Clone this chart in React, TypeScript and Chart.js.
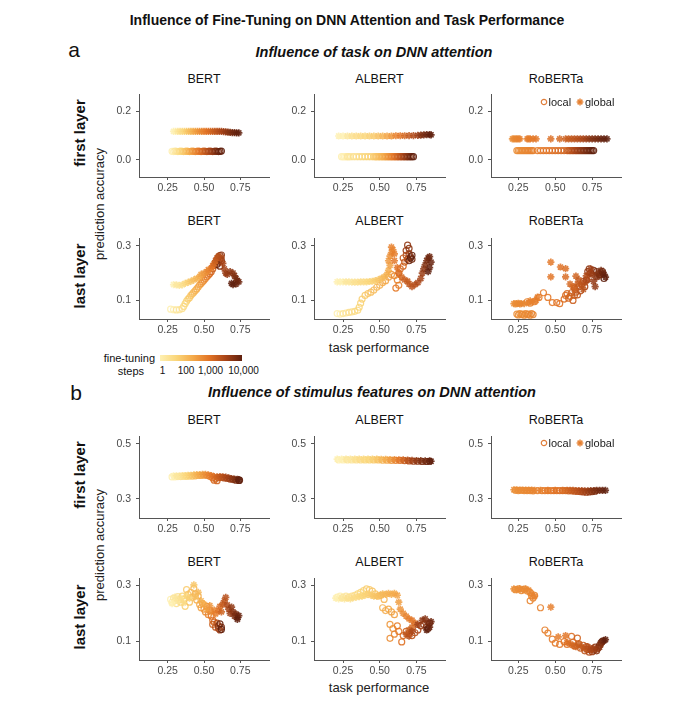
import React, { useEffect, useRef } from 'react';
import Chart from 'chart.js/auto';

const FONT = '"Liberation Sans", Arial, Helvetica, sans-serif';

const models = ['BERT', 'ALBERT', 'RoBERTa'];
const xTickValues = [0.25, 0.5, 0.75];
const yTicksTaskFirst = [0.0, 0.2];
const yTicksLast = [0.1, 0.3];
const yTicksStimFirst = [0.3, 0.5];
const stepLabels = ['1', '100', '1,000', '10,000'];
const legendLabels = ['local', 'global'];

// each point: [task performance, prediction accuracy, fine-tuning steps]
const bertTaskFirstLocal = [[0.28,0.035,1],[0.29,0.034,1],[0.30,0.036,2],[0.31,0.035,2],[0.32,0.034,3],[0.33,0.035,4],[0.34,0.036,5],[0.35,0.035,7],[0.36,0.034,9],[0.37,0.035,12],[0.38,0.036,16],[0.39,0.035,22],[0.40,0.034,30],[0.41,0.035,40],[0.42,0.036,55],[0.43,0.035,75],[0.44,0.034,100],[0.45,0.035,130],[0.46,0.036,170],[0.47,0.035,220],[0.48,0.034,280],[0.49,0.035,350],[0.50,0.036,450],[0.51,0.035,600],[0.52,0.034,800],[0.53,0.035,1000],[0.54,0.036,1300],[0.55,0.035,1700],[0.56,0.034,2200],[0.57,0.035,2900],[0.58,0.036,3800],[0.59,0.035,5000],[0.60,0.034,6500],[0.61,0.035,8200],[0.62,0.036,10000]];
const bertTaskFirstGlobal = [[0.29,0.117,1],[0.305,0.117,1],[0.32,0.117,2],[0.335,0.117,3],[0.35,0.117,4],[0.365,0.117,6],[0.38,0.117,9],[0.395,0.117,14],[0.41,0.117,20],[0.425,0.117,30],[0.44,0.117,45],[0.455,0.117,65],[0.47,0.117,90],[0.485,0.117,120],[0.50,0.117,160],[0.515,0.117,210],[0.53,0.117,280],[0.545,0.117,360],[0.56,0.117,470],[0.575,0.117,600],[0.59,0.117,800],[0.605,0.117,1000],[0.62,0.117,1350],[0.635,0.116,1800],[0.65,0.115,2400],[0.665,0.114,3100],[0.68,0.113,4000],[0.695,0.112,5200],[0.71,0.112,6600],[0.725,0.111,8200],[0.74,0.111,10000]];
const albertTaskFirstLocal = [[0.24,0.013,1],[0.25,0.013,1],[0.26,0.013,1],[0.27,0.013,1],[0.28,0.013,2],[0.29,0.013,2],[0.30,0.013,2],[0.32,0.013,3],[0.34,0.013,3],[0.36,0.013,4],[0.38,0.013,5],[0.40,0.013,6],[0.42,0.013,7],[0.44,0.013,8],[0.46,0.013,10],[0.47,0.013,11],[0.48,0.013,13],[0.49,0.013,15],[0.50,0.013,18],[0.51,0.013,22],[0.52,0.013,28],[0.53,0.013,35],[0.54,0.013,45],[0.55,0.013,60],[0.56,0.013,80],[0.57,0.013,100],[0.58,0.013,130],[0.59,0.013,170],[0.60,0.013,230],[0.61,0.013,300],[0.62,0.013,400],[0.63,0.013,550],[0.64,0.013,750],[0.65,0.013,1000],[0.66,0.013,1350],[0.67,0.013,1800],[0.68,0.013,2500],[0.69,0.013,3300],[0.70,0.013,4500],[0.71,0.013,6000],[0.72,0.013,8000],[0.73,0.013,10000]];
const albertTaskFirstGlobal = [[0.22,0.098,1],[0.25,0.098,1],[0.28,0.098,2],[0.31,0.098,3],[0.34,0.098,4],[0.37,0.098,5],[0.40,0.098,6],[0.43,0.098,8],[0.46,0.098,10],[0.49,0.098,15],[0.52,0.098,25],[0.55,0.098,45],[0.58,0.098,80],[0.61,0.099,150],[0.64,0.099,250],[0.67,0.099,400],[0.70,0.100,700],[0.73,0.100,1200],[0.76,0.101,2000],[0.78,0.102,3500],[0.80,0.103,5000],[0.82,0.104,7000],[0.84,0.104,9000],[0.85,0.103,10000]];
const robertaTaskFirstLocal = [[0.24,0.038,100],[0.25,0.038,105],[0.26,0.038,110],[0.27,0.038,115],[0.28,0.038,120],[0.29,0.038,125],[0.30,0.038,130],[0.31,0.038,135],[0.32,0.038,140],[0.33,0.038,145],[0.34,0.038,150],[0.35,0.038,160],[0.38,0.038,180],[0.40,0.038,200],[0.42,0.038,220],[0.44,0.038,240],[0.46,0.038,260],[0.48,0.038,280],[0.50,0.038,300],[0.52,0.038,330],[0.54,0.038,360],[0.56,0.038,400],[0.58,0.038,500],[0.59,0.038,600],[0.60,0.038,700],[0.61,0.038,850],[0.62,0.038,1000],[0.63,0.038,1200],[0.64,0.038,1500],[0.65,0.038,1800],[0.66,0.038,2100],[0.67,0.038,2500],[0.68,0.038,3000],[0.69,0.038,3500],[0.70,0.038,4000],[0.71,0.038,4800],[0.72,0.038,5600],[0.73,0.038,6500],[0.74,0.038,7500],[0.75,0.038,8700],[0.76,0.038,10000]];
const robertaTaskFirstGlobal = [[0.21,0.086,100],[0.22,0.086,110],[0.23,0.086,120],[0.24,0.086,130],[0.25,0.086,140],[0.26,0.086,150],[0.31,0.086,170],[0.32,0.086,180],[0.33,0.086,190],[0.35,0.086,200],[0.37,0.086,220],[0.47,0.086,300],[0.53,0.086,400],[0.57,0.086,500],[0.59,0.086,600],[0.61,0.086,700],[0.63,0.086,800],[0.65,0.086,1000],[0.67,0.086,1200],[0.69,0.086,1500],[0.71,0.086,2000],[0.73,0.086,3000],[0.75,0.086,4000],[0.77,0.086,5000],[0.79,0.086,6000],[0.81,0.086,7500],[0.83,0.086,9000],[0.85,0.086,10000]];

const bertTaskLastLocal = [[0.27,0.068,1],[0.29,0.066,1],[0.31,0.065,2],[0.33,0.066,2],[0.35,0.070,3],[0.36,0.078,4],[0.37,0.088,5],[0.38,0.097,6],[0.39,0.105,8],[0.40,0.110,10],[0.41,0.118,13],[0.42,0.124,16],[0.43,0.130,20],[0.44,0.136,25],[0.45,0.142,32],[0.46,0.149,40],[0.47,0.156,50],[0.48,0.162,65],[0.49,0.168,80],[0.50,0.174,100],[0.51,0.180,130],[0.52,0.186,170],[0.53,0.192,220],[0.54,0.198,300],[0.55,0.205,400],[0.56,0.215,550],[0.57,0.228,750],[0.58,0.240,1000],[0.59,0.250,1400],[0.60,0.258,2000],[0.61,0.264,2800],[0.62,0.266,3500],[0.60,0.240,4200],[0.61,0.225,5000],[0.62,0.245,6000],[0.59,0.232,8000],[0.61,0.250,10000]];
const bertTaskLastGlobal = [[0.29,0.158,1],[0.31,0.157,2],[0.33,0.155,2],[0.35,0.157,3],[0.37,0.162,5],[0.39,0.166,8],[0.41,0.170,12],[0.43,0.175,18],[0.45,0.180,25],[0.47,0.186,35],[0.48,0.195,50],[0.50,0.200,70],[0.52,0.205,100],[0.53,0.212,140],[0.55,0.218,200],[0.56,0.226,280],[0.57,0.235,400],[0.58,0.245,550],[0.59,0.255,700],[0.60,0.262,900],[0.62,0.255,1200],[0.63,0.235,1500],[0.64,0.215,1800],[0.65,0.200,2200],[0.66,0.195,2600],[0.68,0.205,3000],[0.70,0.200,3500],[0.71,0.190,4000],[0.72,0.180,5000],[0.73,0.172,6000],[0.74,0.168,7000],[0.72,0.160,8000],[0.70,0.158,9000],[0.69,0.162,10000]];
const albertTaskLastLocal = [[0.21,0.052,1],[0.23,0.050,1],[0.25,0.052,2],[0.27,0.054,2],[0.29,0.056,3],[0.31,0.058,3],[0.33,0.060,4],[0.35,0.064,5],[0.36,0.075,6],[0.37,0.090,7],[0.38,0.105,8],[0.40,0.118,10],[0.42,0.125,12],[0.44,0.130,15],[0.46,0.138,18],[0.48,0.148,22],[0.50,0.155,28],[0.52,0.165,35],[0.54,0.172,45],[0.56,0.185,60],[0.58,0.195,80],[0.60,0.190,100],[0.62,0.175,130],[0.63,0.155,160],[0.61,0.145,200],[0.63,0.200,260],[0.64,0.215,330],[0.66,0.225,420],[0.67,0.240,550],[0.66,0.255,700],[0.68,0.265,900],[0.69,0.250,1200],[0.70,0.270,1600],[0.68,0.282,2000],[0.69,0.302,2600],[0.70,0.290,3300],[0.71,0.260,4200],[0.72,0.250,5500],[0.70,0.245,7000],[0.72,0.265,8500],[0.71,0.255,10000]];
const albertTaskLastGlobal = [[0.21,0.168,1],[0.23,0.168,1],[0.25,0.168,1],[0.27,0.168,2],[0.29,0.168,2],[0.31,0.167,2],[0.33,0.167,3],[0.35,0.167,3],[0.37,0.168,4],[0.39,0.168,4],[0.41,0.168,5],[0.43,0.169,6],[0.45,0.170,7],[0.47,0.172,9],[0.49,0.175,12],[0.51,0.180,16],[0.53,0.186,22],[0.55,0.195,30],[0.56,0.210,40],[0.57,0.228,55],[0.56,0.245,70],[0.57,0.262,90],[0.58,0.275,110],[0.59,0.285,130],[0.58,0.295,150],[0.60,0.270,180],[0.60,0.245,220],[0.62,0.220,270],[0.63,0.200,330],[0.65,0.185,400],[0.67,0.175,500],[0.69,0.170,600],[0.70,0.160,700],[0.72,0.150,850],[0.74,0.158,1000],[0.76,0.165,1300],[0.78,0.180,1700],[0.79,0.200,2200],[0.80,0.215,3000],[0.81,0.230,4000],[0.82,0.245,5000],[0.83,0.255,6000],[0.84,0.260,7000],[0.85,0.240,8000],[0.84,0.220,9000],[0.83,0.205,10000]];
const robertaTaskLastLocal = [[0.24,0.050,100],[0.25,0.047,102],[0.26,0.052,105],[0.27,0.048,108],[0.28,0.050,110],[0.29,0.046,113],[0.30,0.052,116],[0.31,0.048,120],[0.32,0.050,125],[0.33,0.046,130],[0.34,0.052,135],[0.35,0.048,140],[0.31,0.095,145],[0.33,0.090,150],[0.36,0.095,160],[0.39,0.111,175],[0.42,0.128,190],[0.45,0.111,205],[0.48,0.092,220],[0.51,0.092,240],[0.53,0.088,260],[0.56,0.105,290],[0.57,0.118,320],[0.58,0.125,350],[0.59,0.108,380],[0.60,0.115,420],[0.61,0.128,460],[0.62,0.100,500],[0.63,0.118,550],[0.64,0.130,600],[0.65,0.120,700],[0.63,0.145,800],[0.66,0.150,900],[0.67,0.135,1000],[0.68,0.160,1200],[0.69,0.170,1400],[0.70,0.150,1700],[0.71,0.175,2000],[0.72,0.205,2500],[0.73,0.215,3000],[0.74,0.200,3600],[0.76,0.210,4300],[0.78,0.205,5000],[0.80,0.195,6000],[0.82,0.205,7500],[0.83,0.180,10000]];
const robertaTaskLastGlobal = [[0.22,0.088,100],[0.23,0.087,105],[0.24,0.088,110],[0.25,0.089,115],[0.26,0.087,120],[0.27,0.088,125],[0.29,0.088,130],[0.32,0.092,140],[0.33,0.098,150],[0.35,0.095,160],[0.37,0.100,175],[0.38,0.112,190],[0.47,0.240,220],[0.47,0.186,250],[0.535,0.222,280],[0.57,0.216,310],[0.57,0.186,340],[0.60,0.160,380],[0.62,0.150,420],[0.64,0.189,460],[0.63,0.140,500],[0.65,0.160,600],[0.66,0.175,700],[0.68,0.155,800],[0.69,0.140,900],[0.70,0.165,1000],[0.71,0.190,1200],[0.72,0.175,1400],[0.73,0.200,1600],[0.74,0.215,1900],[0.75,0.195,2200],[0.76,0.170,2600],[0.77,0.150,3000],[0.78,0.185,3500],[0.79,0.200,4000],[0.80,0.190,4700],[0.81,0.210,5500],[0.82,0.200,6500],[0.83,0.195,8000],[0.84,0.185,10000]];

const bertStimFirstLocal = [[0.28,0.380,1],[0.30,0.380,1],[0.32,0.381,2],[0.34,0.381,3],[0.36,0.382,4],[0.38,0.382,6],[0.40,0.383,9],[0.42,0.383,14],[0.44,0.384,22],[0.46,0.385,35],[0.48,0.385,55],[0.50,0.386,80],[0.52,0.385,120],[0.54,0.382,180],[0.56,0.376,260],[0.57,0.368,320],[0.58,0.374,380],[0.59,0.366,450],[0.60,0.377,550],[0.62,0.378,800],[0.64,0.376,1100],[0.66,0.374,1600],[0.68,0.372,2300],[0.70,0.370,3300],[0.72,0.368,5000],[0.74,0.367,7500],[0.745,0.368,10000]];
const bertStimFirstGlobal = [[0.29,0.384,1],[0.31,0.384,2],[0.33,0.384,2],[0.35,0.385,3],[0.37,0.385,5],[0.39,0.386,7],[0.41,0.386,11],[0.43,0.387,17],[0.45,0.388,27],[0.47,0.388,42],[0.49,0.389,65],[0.51,0.389,100],[0.53,0.387,150],[0.55,0.385,220],[0.57,0.381,320],[0.59,0.380,460],[0.61,0.381,650],[0.63,0.380,950],[0.65,0.379,1350],[0.67,0.376,1900],[0.69,0.374,2800],[0.71,0.372,4000],[0.73,0.371,6000],[0.74,0.370,10000]];
const albertStimFirstLocal = [[0.22,0.442,1],[0.25,0.442,1],[0.28,0.442,2],[0.31,0.442,2],[0.34,0.442,3],[0.37,0.442,4],[0.40,0.442,5],[0.43,0.442,7],[0.46,0.442,10],[0.49,0.442,15],[0.52,0.441,25],[0.55,0.441,45],[0.58,0.440,80],[0.61,0.440,150],[0.64,0.440,300],[0.67,0.439,600],[0.70,0.438,1200],[0.73,0.437,2200],[0.76,0.437,3500],[0.79,0.436,5000],[0.82,0.436,7500],[0.84,0.437,10000]];
const albertStimFirstGlobal = [[0.21,0.445,1],[0.24,0.445,1],[0.27,0.445,2],[0.30,0.445,2],[0.33,0.445,3],[0.36,0.445,4],[0.39,0.445,5],[0.42,0.445,6],[0.45,0.445,8],[0.48,0.445,12],[0.51,0.444,20],[0.54,0.444,35],[0.57,0.443,60],[0.60,0.443,110],[0.63,0.442,220],[0.66,0.442,450],[0.69,0.441,900],[0.72,0.440,1700],[0.75,0.439,2800],[0.78,0.439,4200],[0.81,0.438,6000],[0.84,0.438,8000],[0.85,0.437,10000]];
const robertaStimFirstLocal = [[0.23,0.331,100],[0.25,0.330,105],[0.27,0.331,110],[0.29,0.330,115],[0.31,0.330,120],[0.33,0.330,125],[0.35,0.329,130],[0.38,0.330,150],[0.41,0.330,170],[0.43,0.330,190],[0.45,0.330,210],[0.47,0.330,230],[0.49,0.330,250],[0.51,0.330,270],[0.53,0.330,300],[0.55,0.330,340],[0.57,0.330,400],[0.59,0.329,480],[0.61,0.329,580],[0.63,0.328,700],[0.65,0.327,900],[0.67,0.326,1200],[0.69,0.325,1600],[0.71,0.324,2100],[0.73,0.325,2800],[0.75,0.326,3700],[0.77,0.328,5000]];
const robertaStimFirstGlobal = [[0.22,0.333,100],[0.24,0.333,105],[0.26,0.332,110],[0.28,0.332,115],[0.30,0.332,120],[0.32,0.332,125],[0.34,0.332,130],[0.36,0.331,140],[0.40,0.331,160],[0.45,0.331,200],[0.50,0.331,250],[0.55,0.331,320],[0.58,0.331,400],[0.60,0.331,500],[0.62,0.331,650],[0.64,0.330,800],[0.66,0.330,1000],[0.68,0.330,1300],[0.70,0.329,1700],[0.72,0.329,2200],[0.74,0.330,3000],[0.76,0.330,4000],[0.78,0.331,5000],[0.80,0.331,6500],[0.82,0.331,8000],[0.84,0.331,10000]];

const bertStimLastLocal = [[0.27,0.250,1],[0.28,0.240,1],[0.29,0.255,2],[0.30,0.245,2],[0.31,0.235,3],[0.32,0.260,3],[0.33,0.250,4],[0.34,0.240,5],[0.35,0.262,6],[0.36,0.250,7],[0.37,0.225,8],[0.38,0.285,10],[0.39,0.268,12],[0.40,0.240,14],[0.41,0.275,16],[0.42,0.258,19],[0.43,0.290,22],[0.44,0.270,26],[0.45,0.248,30],[0.46,0.262,35],[0.47,0.232,40],[0.48,0.220,50],[0.49,0.235,60],[0.50,0.215,75],[0.51,0.205,90],[0.52,0.225,110],[0.53,0.195,140],[0.54,0.210,180],[0.55,0.190,230],[0.56,0.175,300],[0.57,0.168,400],[0.56,0.160,550],[0.58,0.150,750],[0.59,0.165,1000],[0.60,0.145,1400],[0.61,0.140,2000],[0.60,0.155,3000],[0.62,0.150,4500],[0.61,0.162,7000],[0.62,0.142,10000]];
const bertStimLastGlobal = [[0.28,0.235,1],[0.30,0.258,2],[0.32,0.245,2],[0.34,0.255,3],[0.36,0.238,4],[0.38,0.262,6],[0.40,0.255,8],[0.43,0.302,12],[0.44,0.260,16],[0.46,0.275,22],[0.48,0.245,30],[0.50,0.232,40],[0.52,0.215,55],[0.54,0.228,75],[0.55,0.205,100],[0.57,0.212,140],[0.58,0.198,190],[0.60,0.210,260],[0.61,0.225,350],[0.62,0.205,470],[0.63,0.232,620],[0.64,0.245,800],[0.65,0.257,1000],[0.66,0.230,1300],[0.67,0.215,1700],[0.68,0.200,2200],[0.69,0.222,2800],[0.70,0.205,3500],[0.71,0.190,4300],[0.72,0.198,5200],[0.73,0.185,6300],[0.74,0.192,7700],[0.73,0.178,10000]];
const albertStimLastLocal = [[0.21,0.258,1],[0.23,0.262,1],[0.25,0.258,2],[0.27,0.262,2],[0.29,0.258,3],[0.31,0.262,3],[0.33,0.265,4],[0.35,0.270,5],[0.37,0.275,6],[0.39,0.282,7],[0.41,0.288,8],[0.43,0.285,10],[0.45,0.280,12],[0.47,0.270,14],[0.49,0.262,17],[0.51,0.265,20],[0.53,0.250,24],[0.52,0.220,28],[0.54,0.210,33],[0.56,0.215,40],[0.58,0.205,48],[0.60,0.195,58],[0.57,0.160,70],[0.59,0.145,85],[0.57,0.110,100],[0.60,0.125,130],[0.62,0.155,170],[0.63,0.135,220],[0.65,0.097,280],[0.66,0.120,360],[0.68,0.135,460],[0.70,0.128,600],[0.72,0.120,800],[0.74,0.130,1000],[0.76,0.140,1400],[0.78,0.155,2000],[0.80,0.160,3000],[0.82,0.150,4500],[0.84,0.165,7000],[0.83,0.145,10000]];
const albertStimLastGlobal = [[0.20,0.255,1],[0.22,0.252,1],[0.24,0.255,2],[0.26,0.252,2],[0.28,0.255,3],[0.30,0.252,3],[0.32,0.256,4],[0.34,0.258,4],[0.36,0.260,5],[0.38,0.262,6],[0.40,0.265,7],[0.42,0.268,8],[0.44,0.265,10],[0.46,0.262,12],[0.48,0.262,14],[0.50,0.265,17],[0.52,0.270,20],[0.54,0.268,24],[0.56,0.272,28],[0.58,0.268,33],[0.60,0.272,40],[0.62,0.265,50],[0.63,0.240,65],[0.64,0.215,85],[0.66,0.200,110],[0.68,0.190,140],[0.70,0.180,180],[0.72,0.175,230],[0.74,0.165,300],[0.72,0.150,400],[0.70,0.140,550],[0.68,0.125,750],[0.70,0.118,1000],[0.72,0.135,1400],[0.76,0.160,2000],[0.79,0.175,2800],[0.81,0.180,3800],[0.83,0.165,5000],[0.85,0.170,6500],[0.84,0.150,8000],[0.82,0.140,10000]];
const robertaStimLastLocal = [[0.23,0.285,100],[0.25,0.288,103],[0.27,0.282,106],[0.29,0.287,110],[0.31,0.280,115],[0.33,0.275,120],[0.34,0.262,125],[0.35,0.255,130],[0.36,0.265,135],[0.33,0.245,140],[0.40,0.220,150],[0.43,0.140,160],[0.45,0.129,170],[0.48,0.107,185],[0.50,0.093,200],[0.53,0.088,220],[0.56,0.098,245],[0.58,0.088,270],[0.61,0.117,300],[0.62,0.095,340],[0.63,0.082,380],[0.65,0.111,430],[0.66,0.090,490],[0.67,0.075,560],[0.69,0.085,650],[0.70,0.065,750],[0.71,0.080,880],[0.72,0.070,1000],[0.73,0.060,1200],[0.74,0.072,1500],[0.75,0.062,1900],[0.76,0.068,2400],[0.77,0.078,3000],[0.78,0.065,3800],[0.79,0.075,4800],[0.80,0.085,6000],[0.81,0.095,7500],[0.82,0.100,10000]];
const robertaStimLastGlobal = [[0.22,0.288,100],[0.24,0.285,105],[0.26,0.289,110],[0.28,0.284,115],[0.30,0.288,120],[0.32,0.283,125],[0.34,0.270,135],[0.36,0.262,145],[0.47,0.222,170],[0.52,0.115,200],[0.57,0.120,240],[0.58,0.095,280],[0.60,0.090,330],[0.62,0.085,400],[0.64,0.080,480],[0.66,0.088,570],[0.68,0.078,680],[0.70,0.072,800],[0.72,0.080,1000],[0.74,0.068,1300],[0.76,0.075,1700],[0.78,0.070,2200],[0.80,0.078,3000],[0.81,0.090,4000],[0.82,0.098,5500],[0.83,0.102,7500],[0.84,0.105,10000]];

const panelData = [
  [[bertTaskFirstLocal, bertTaskFirstGlobal], [albertTaskFirstLocal, albertTaskFirstGlobal], [robertaTaskFirstLocal, robertaTaskFirstGlobal]],
  [[bertTaskLastLocal, bertTaskLastGlobal], [albertTaskLastLocal, albertTaskLastGlobal], [robertaTaskLastLocal, robertaTaskLastGlobal]],
  [[bertStimFirstLocal, bertStimFirstGlobal], [albertStimFirstLocal, albertStimFirstGlobal], [robertaStimFirstLocal, robertaStimFirstGlobal]],
  [[bertStimLastLocal, bertStimLastGlobal], [albertStimLastLocal, albertStimLastGlobal], [robertaStimLastLocal, robertaStimLastGlobal]],
];

// ---- layout / style ----
const COLS = [
  { left: 139, w: 130, xMin: 0.052, xMax: 0.948 },
  { left: 314, w: 131, xMin: 0.052, xMax: 0.945 },
  { left: 491, w: 130, xMin: 0.065, xMax: 0.945 },
];
const ROWS = [
  { top: 89, h: 88, yMin: -0.071, yMax: 0.27, ticks: yTicksTaskFirst, titleY: 78.7 },
  { top: 233, h: 86, yMin: 0.032, yMax: 0.327, ticks: yTicksLast, titleY: 221 },
  { top: 431, h: 87, yMin: 0.23, yMax: 0.528, ticks: yTicksStimFirst, titleY: 419.5 },
  { top: 573, h: 87, yMin: 0.032, yMax: 0.326, ticks: yTicksLast, titleY: 561.5 },
];

const STOPS = [
  [254, 240, 178],
  [250, 214, 122],
  [244, 170, 74],
  [226, 116, 38],
  [168, 68, 24],
  [95, 32, 14],
];

function colorAt(t: number, alpha: number) {
  const n = STOPS.length - 1;
  const f = Math.min(1, Math.max(0, t)) * n;
  const i = Math.min(n - 1, Math.floor(f));
  const u = f - i;
  const c = STOPS[i].map((v, k) => Math.round(v + (STOPS[i + 1][k] - v) * u));
  return `rgba(${c[0]},${c[1]},${c[2]},${alpha})`;
}
function stepColor(step: number, alpha: number) {
  return colorAt(Math.log10(step) / 4, alpha);
}

const AX = '#555';
const TICK_TXT = '#4a4a4a';

function Panel({ r, c }: { r: number; c: number }) {
  const ref = useRef<HTMLCanvasElement>(null);
  const col = COLS[c];
  const row = ROWS[r];
  const W = col.w + 46;
  const H = row.h + 28;
  useEffect(() => {
    const [loc, glob] = panelData[r][c];
    const chart = new Chart(ref.current as HTMLCanvasElement, {
      type: 'scatter',
      data: {
        datasets: [
          {
            label: 'global',
            data: glob.map((p) => ({ x: p[0], y: p[1] })),
            pointStyle: 'star',
            pointRadius: 3.6,
            pointBorderWidth: 1.7,
            pointBorderColor: glob.map((p) => stepColor(p[2], 0.85)),
            pointBackgroundColor: glob.map((p) => stepColor(p[2], 0.85)),
          },
          {
            label: 'local',
            data: loc.map((p) => ({ x: p[0], y: p[1] })),
            pointStyle: 'circle',
            pointRadius: 3,
            pointBorderWidth: 1.2,
            pointBorderColor: loc.map((p) => stepColor(p[2], 0.9)),
            pointBackgroundColor: 'rgba(0,0,0,0)',
          },
        ],
      },
      options: {
        animation: false,
        responsive: false,
        events: [],
        layout: { padding: { top: 6, right: 6, left: 0, bottom: 0 } },
        plugins: { legend: { display: false }, tooltip: { enabled: false }, title: { display: false } },
        scales: {
          x: {
            type: 'linear',
            min: col.xMin,
            max: col.xMax,
            afterBuildTicks: (s: any) => { s.ticks = xTickValues.map((v) => ({ value: v })); },
            afterFit: (s: any) => { s.height = 22; },
            ticks: {
              autoSkip: false, maxRotation: 0, padding: 2, color: TICK_TXT,
              font: { family: FONT, size: 10.5 },
              callback: (v: any) => Number(v).toFixed(2),
            },
            grid: { display: true, drawOnChartArea: false, drawTicks: true, tickLength: 3, color: AX, lineWidth: 1 },
            border: { display: true, color: AX, width: 1 },
          },
          y: {
            type: 'linear',
            min: row.yMin,
            max: row.yMax,
            afterBuildTicks: (s: any) => { s.ticks = row.ticks.map((v) => ({ value: v })); },
            afterFit: (s: any) => { s.width = 40; },
            ticks: {
              autoSkip: false, padding: 5, color: TICK_TXT,
              font: { family: FONT, size: 10.5 },
              callback: (v: any) => Number(v).toFixed(1),
            },
            grid: { display: true, drawOnChartArea: false, drawTicks: true, tickLength: 3, color: AX, lineWidth: 1 },
            border: { display: true, color: AX, width: 1 },
          },
        },
      },
    } as any);
    return () => chart.destroy();
  }, [r, c]);
  return (
    <canvas
      ref={ref}
      width={W}
      height={H}
      style={{ position: 'absolute', left: col.left - 40, top: row.top - 6, width: W, height: H }}
    />
  );
}

function Txt(props: { x: number; y: number; size: number; text: string; weight?: string; style?: string; rotate?: boolean; color?: string; align?: 'center' | 'left' | 'right' }) {
  const { x, y, size, text, weight, style, rotate, color, align } = props;
  let tx = '-50%';
  if (align === 'left') tx = '0%';
  if (align === 'right') tx = '-100%';
  return (
    <div
      style={{
        position: 'absolute', left: x, top: y, fontFamily: FONT, fontSize: size, lineHeight: 1,
        fontWeight: (weight as any) || 'normal', fontStyle: style || 'normal', color: color || '#111',
        whiteSpace: 'nowrap',
        transform: rotate ? 'translate(-50%,-50%) rotate(-90deg)' : `translate(${tx},-50%)`,
      }}
    >
      {text}
    </div>
  );
}

function Legend({ y }: { y: number }) {
  const cCol = stepColor(300, 0.9);
  const sCol = stepColor(200, 0.9);
  return (
    <>
      <svg style={{ position: 'absolute', left: 540, top: y - 4 }} width={8} height={8}>
        <circle cx={4} cy={4} r={2.7} fill="none" stroke={cCol} strokeWidth={1.2} />
      </svg>
      <Txt x={548.5} y={y} size={11} text={legendLabels[0]} align="left" color="#222" />
      <svg style={{ position: 'absolute', left: 576, top: y - 4 }} width={8} height={8}>
        <g stroke={sCol} strokeWidth={1.5}>
          <line x1={4} y1={0.6} x2={4} y2={7.4} />
          <line x1={0.6} y1={4} x2={7.4} y2={4} />
          <line x1={1.6} y1={1.6} x2={6.4} y2={6.4} />
          <line x1={6.4} y1={1.6} x2={1.6} y2={6.4} />
        </g>
      </svg>
      <Txt x={585} y={y} size={11} text={legendLabels[1]} align="left" color="#222" />
    </>
  );
}

function Colorbar() {
  const stops = [0, 0.2, 0.4, 0.6, 0.8, 1].map((t) => `${colorAt(t, 1)} ${t * 100}%`).join(', ');
  const labelX = [162.5, 186, 210.5, 243.5];
  return (
    <>
      <Txt x={155} y={357.5} size={11} text="fine-tuning" align="right" />
      <Txt x={144} y={371} size={11} text="steps" align="right" />
      <div style={{ position: 'absolute', left: 160, top: 354.5, width: 82, height: 6, background: `linear-gradient(to right, ${stops})` }} />
      {stepLabels.map((s, i) => (
        <Txt key={s} x={labelX[i]} y={371} size={10} text={s} />
      ))}
    </>
  );
}

export default function App() {
  const panels: any[] = [];
  for (let r = 0; r < 4; r++) for (let c = 0; c < 3; c++) panels.push(<Panel key={`${r}-${c}`} r={r} c={c} />);
  const titles: any[] = [];
  for (let r = 0; r < 4; r++)
    for (let c = 0; c < 3; c++)
      titles.push(<Txt key={`t${r}-${c}`} x={COLS[c].left + COLS[c].w / 2} y={ROWS[r].titleY} size={12.5} text={models[c]} />);
  return (
    <div style={{ position: 'absolute', left: 0, top: 0, width: 693, height: 711, background: '#fff', overflow: 'hidden' }}>
      <Txt x={347} y={20} size={14} weight="bold" text="Influence of Fine-Tuning on DNN Attention and Task Performance" />
      <Txt x={74} y={49} size={21} text="a" />
      <Txt x={374} y={52} size={14.5} weight="bold" style="italic" text="Influence of task on DNN attention" />
      <Txt x={76} y={392} size={21} text="b" />
      <Txt x={372} y={392} size={14.5} weight="bold" style="italic" text="Influence of stimulus features on DNN attention" />
      {titles}
      <Txt x={79} y={133} size={15} weight="bold" rotate text="first layer" />
      <Txt x={79} y={276} size={15} weight="bold" rotate text="last layer" />
      <Txt x={79} y={474.5} size={15} weight="bold" rotate text="first layer" />
      <Txt x={79} y={616.5} size={15} weight="bold" rotate text="last layer" />
      <Txt x={99} y={204} size={13} rotate text="prediction accuracy" color="#222" />
      <Txt x={99} y={545} size={13} rotate text="prediction accuracy" color="#222" />
      <Txt x={379} y={347} size={13} text="task performance" color="#222" />
      <Txt x={379} y={687} size={13} text="task performance" color="#222" />
      {panels}
      <Legend y={101.5} />
      <Legend y={442.6} />
      <Colorbar />
    </div>
  );
}
